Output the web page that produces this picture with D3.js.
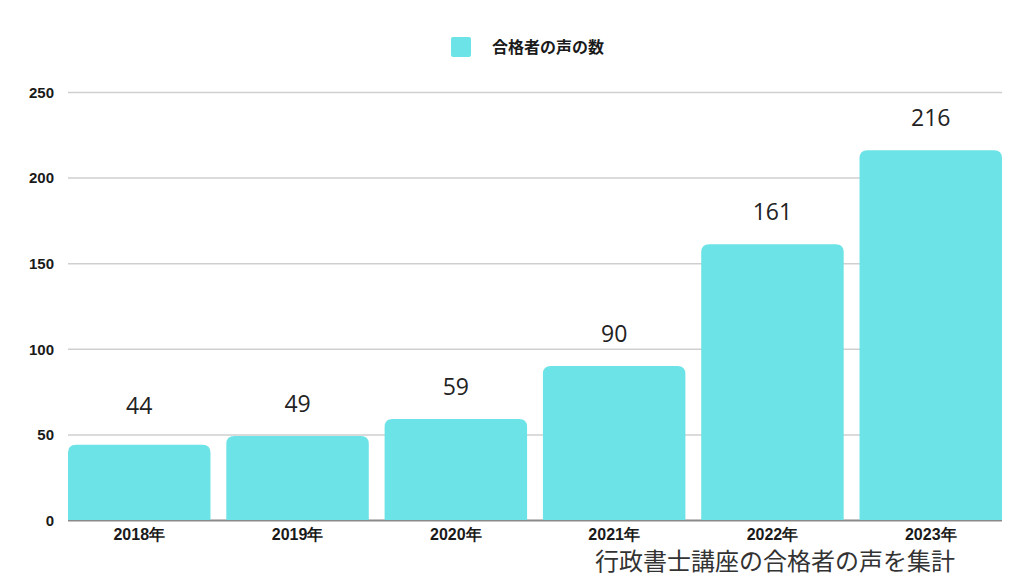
<!DOCTYPE html>
<html>
<head>
<meta charset="utf-8">
<script src="https://cdn.jsdelivr.net/npm/d3@7"></script>
<style>
  body { margin: 0; background: #fff; }
  svg { display: block; font-family: "Open Sans", "Noto Sans CJK JP", sans-serif; }
</style>
</head>
<body>
<script>
// data
var years = ["2018年", "2019年", "2020年", "2021年", "2022年", "2023年"];
var counts = [44, 49, 59, 90, 161, 216];
var yTicks = [0, 50, 100, 150, 200, 250];
var seriesName = "合格者の声の数";
var caption = "行政書士講座の合格者の声を集計";

var width = 1024, height = 576;
var margin = {top: 92, right: 22, bottom: 56, left: 68};
var barColor = "#6ce3e6";

var svg = d3.select("body")
            .append("svg")
            .attr("width", width)
            .attr("height", height);

var x = d3.scaleBand()
    .domain(years)
    .range([margin.left, width - margin.right])
    .paddingInner(0.1)
    .paddingOuter(0);

var y = d3.scaleLinear()
    .domain([0, 250])
    .range([height - margin.bottom, margin.top]);

// grid lines + y labels
var yAxis = d3.axisLeft(y)
    .tickValues(yTicks)
    .tickSize(-(width - margin.left - margin.right))
    .tickPadding(14);

var gy = svg.append("g")
    .attr("transform", "translate(" + margin.left + ",0)")
    .call(yAxis);
gy.select(".domain").remove();
gy.selectAll(".tick line")
    .attr("stroke", function(d) { return d === 0 ? "#8a8a8a" : "#cfcfcf"; })
    .attr("stroke-width", function(d) { return d === 0 ? 2 : 1.5; });
gy.selectAll(".tick text")
    .attr("fill", "#1a1a1a")
    .style("font-size", "15px")
    .style("font-weight", "bold")
    .attr("dy", "0.35em");

// bars with rounded tops
var r = 8;
function barPath(d, i) {
  var x0 = x(years[i]), w = x.bandwidth();
  var y0 = y(0), y1 = y(d);
  return "M" + x0 + "," + y0 +
         "V" + (y1 + r) +
         "Q" + x0 + "," + y1 + " " + (x0 + r) + "," + y1 +
         "H" + (x0 + w - r) +
         "Q" + (x0 + w) + "," + y1 + " " + (x0 + w) + "," + (y1 + r) +
         "V" + y0 + "Z";
}

svg.append("g")
    .selectAll("path")
    .data(counts)
    .enter().append("path")
    .attr("d", barPath)
    .attr("fill", barColor);

// value labels
svg.append("g")
    .selectAll("text")
    .data(counts)
    .enter().append("text")
    .attr("x", function(d, i) { return x(years[i]) + x.bandwidth() / 2; })
    .attr("y", function(d) { return Math.min(y(d) - 24, 414); })
    .attr("text-anchor", "middle")
    .attr("fill", "#222")
    .style("font-size", "23px")
    .text(function(d) { return d; });

// x labels
var gx = svg.append("g")
    .attr("transform", "translate(0," + y(0) + ")")
    .call(d3.axisBottom(x).tickSize(0).tickPadding(9));
gx.select(".domain").remove();
gx.selectAll(".tick text")
    .attr("fill", "#1a1a1a")
    .style("font-size", "16px")
    .style("font-weight", "bold");

// legend
var legend = svg.append("g").attr("transform", "translate(451,37)");
legend.append("rect")
    .attr("width", 20)
    .attr("height", 20)
    .attr("rx", 2)
    .attr("fill", barColor);
legend.append("text")
    .attr("x", 41)
    .attr("y", 10)
    .attr("dy", "0.35em")
    .attr("fill", "#1a1a1a")
    .style("font-size", "16px")
    .style("font-weight", "bold")
    .text(seriesName);

// caption bottom right
svg.append("text")
    .attr("x", 955)
    .attr("y", 570)
    .attr("text-anchor", "end")
    .attr("fill", "#333")
    .style("font-size", "24px")
    .text(caption);
</script>
</body>
</html>
